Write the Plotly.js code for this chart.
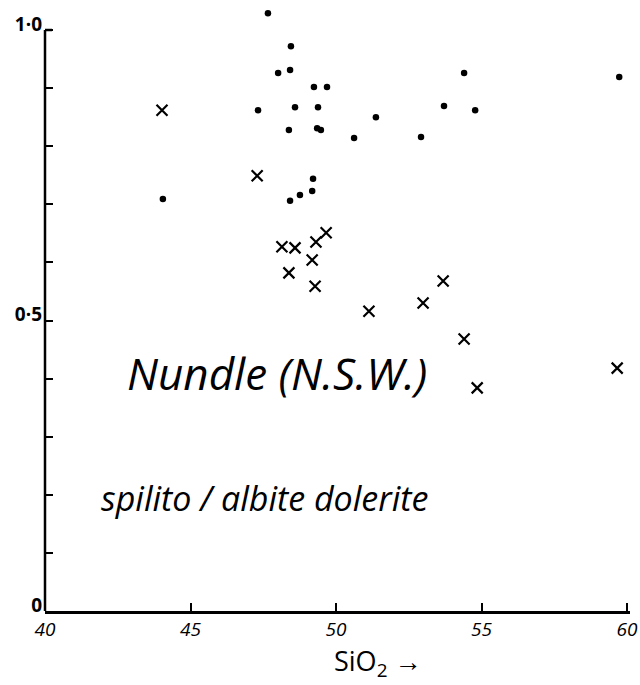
<!DOCTYPE html>
<html><head><meta charset="utf-8">
<script src="https://cdn.plot.ly/plotly-3.0.1.min.js"></script>
<style>body{margin:0;background:#fff}#c{width:640px;height:685px}</style>
</head><body><div id="c"></div>
<script>
// Dots (filled circles): SiO2 vs ratio
const dotX = [47.66,48.45,48.01,48.42,49.24,49.69,47.32,48.59,49.38,51.37,48.38,49.35,49.48,50.62,52.92,49.21,49.18,48.76,48.42,54.40,53.71,54.78,59.73,44.05];
const dotY = [1.029,0.972,0.926,0.931,0.902,0.902,0.862,0.867,0.867,0.850,0.828,0.831,0.828,0.814,0.816,0.744,0.723,0.716,0.706,0.926,0.869,0.862,0.919,0.709];
// Crosses
const crossX = [44.02,47.29,48.14,48.59,49.31,49.66,49.18,48.38,49.28,51.13,52.99,53.68,54.40,54.85,59.66];
const crossY = [0.862,0.749,0.627,0.625,0.635,0.651,0.604,0.582,0.559,0.516,0.530,0.568,0.468,0.384,0.418];
// Axis ticks
const xTicks = [40,45,50,55,60];
const xTickText = ['40','45','50','55','60'];
const yTicks = [0,0.1,0.2,0.3,0.4,0.5,0.6,0.7,0.8,0.9,1.0];
const yTickText = ['0','','','','','0·5','','','','','1·0'];

const hand = 'Open Sans';
const data = [
  {x: dotX, y: dotY, type:'scatter', mode:'markers', cliponaxis:false,
   marker:{symbol:'circle', size:6.5, color:'#000'}},
  {x: crossX, y: crossY, type:'scatter', mode:'markers', cliponaxis:false,
   marker:{symbol:'x-thin-open', size:11, color:'#000', line:{width:2.2, color:'#000'}}}
];
const layout = {
  width:640, height:685, showlegend:false,
  paper_bgcolor:'#fff', plot_bgcolor:'#fff',
  margin:{l:45, r:10, t:2, b:74},
  xaxis:{range:[40,60.1], showgrid:false, zeroline:false, showline:true, linewidth:2.5, linecolor:'#000',
    tickmode:'array', tickvals:xTicks, ticktext:xTickText, ticks:'inside', ticklen:8, tickwidth:2, tickcolor:'#000',
    ticklabelstandoff:0,
    tickfont:{family:hand, size:19, color:'#000', style:'italic'}},
  yaxis:{range:[0,1.0482], showgrid:false, zeroline:false, showline:false,
    tickmode:'array', tickvals:yTicks, ticktext:yTickText, ticks:'inside', ticklen:8, tickwidth:2, tickcolor:'#000',
    ticklabelshift:-6, ticklabelstandoff:2,
    tickfont:{family:hand, size:19, color:'#000', weight:'bold'}},
  shapes:[
    {type:'line', xref:'paper', yref:'y', x0:0, x1:0, y0:0, y1:1, line:{color:'#000', width:2.5}},
    {type:'line', xref:'paper', yref:'y', x0:0, x1:0.012, y0:1, y1:1, line:{color:'#000', width:2.5}}
  ],
  annotations:[
    {text:'Nundle (N.S.W.)', xref:'paper', yref:'paper', x:0.397, y:0.39, showarrow:false,
     font:{family:hand, size:44, color:'#000', style:'italic'}},
    {text:'spilito / albite dolerite', xref:'paper', yref:'paper', x:0.376, y:0.145, showarrow:false,
     font:{family:hand, size:34, color:'#000', style:'italic'}},
    {text:'SiO<sub>2</sub> →', xref:'paper', yref:'paper', x:0.569, y:-0.12, showarrow:false, yanchor:'bottom',
     borderpad:0, font:{family:hand, size:27, color:'#000'}}
  ]
};
Plotly.newPlot('c', data, layout, {displayModeBar:false, staticPlot:true});
</script></body></html>
